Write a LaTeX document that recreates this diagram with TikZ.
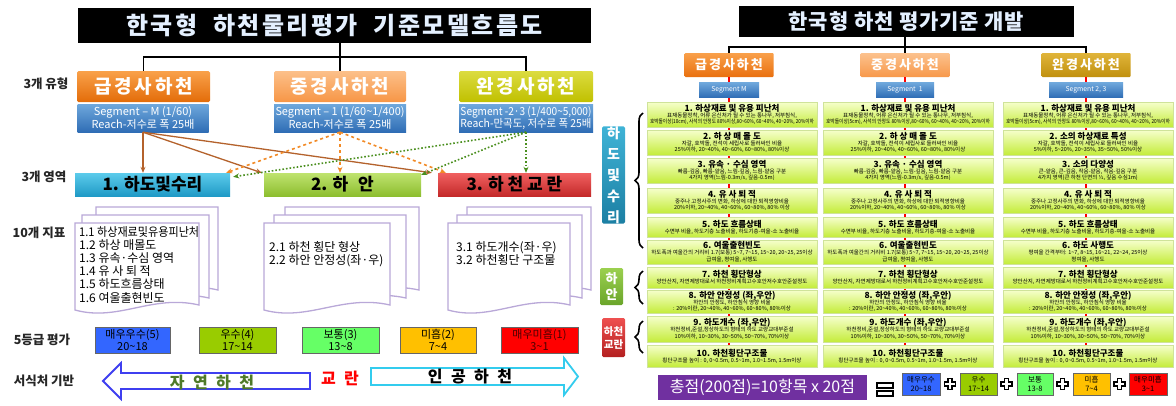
\documentclass[tikz,border=0pt]{standalone}
\usepackage{graphicx}
\usepackage{fontspec}
\setmainfont{Noto Sans CJK KR}
\usetikzlibrary{arrows.meta,decorations.pathreplacing}
\newsavebox\fitbox
\newcommand\fitto[2]{\sbox\fitbox{#2}\ifdim\wd\fitbox>#1\relax\resizebox{#1}{\ht\fitbox}{\usebox\fitbox}\else\usebox\fitbox\fi}
\newcommand\tld{\textasciitilde}
\newcommand\bl[1]{\fitto{164pt}{#1}}
\newcommand\ib[2]{{\bfseries\fontsize{8.5}{9.5}\selectfont #1}\\[-0.5pt]#2}
\newcommand\rbox[5]{\node[itembox, minimum height={#4-#3}] (#1) at (#2,{(#3+#4)/2}) {#5};}
\newcommand\docpage[4]{\filldraw[docst] (#1,#2) -- (#3,#2) -- (#3,{#4-5}) .. controls ({#1+0.62*(#3-#1)},{#4-16}) and ({#1+0.35*(#3-#1)},{#4+12}) .. (#1,#4) -- cycle;}
\newcommand\plussign[2]{\filldraw[fill=white,draw=black,line width=1.1] ({#1-2},{#2-5.5}) -- ({#1+2},{#2-5.5}) -- ({#1+2},{#2-2}) -- ({#1+5.5},{#2-2}) -- ({#1+5.5},{#2+2}) -- ({#1+2},{#2+2}) -- ({#1+2},{#2+5.5}) -- ({#1-2},{#2+5.5}) -- ({#1-2},{#2+2}) -- ({#1-5.5},{#2+2}) -- ({#1-5.5},{#2-2}) -- ({#1-2},{#2-2}) -- cycle;}
% item contents
\newcommand\tOne[1]{\ib{1. 하상재료 및 유용 피난처}{\bl{표재동물정착, 어류 은신처가 될 수 있는 통나무, 저부침식,}\\\bl{호박돌이상(#1), 사석의 안정도 80\%이상,80\tld60\%, 60\tld40\%, 40\tld20\%, 20\%이하}}}
\newcommand\tTwo{\ib{2. 하 상 매 몰 도}{\bl{자갈, 호박돌, 전석이 세립사로 둘러싸인 비율}\\\bl{25\%이하, 20\tld40\%, 40\tld60\%, 60\tld80\%, 80\%이상}}}
\newcommand\tThree{\ib{3. 유속 · 수심 영역}{\bl{빠름-깊음, 빠름-얕음, 느림-깊음, 느림-얕음 구분}\\\bl{4가지 영역(느림-0.3m/s, 깊음-0.5m)}}}
\newcommand\tFour{\ib{4. 유 사 퇴 적}{\bl{중주나 고정사주의 변화, 하상에 대한 퇴적영향비율}\\\bl{20\%이하, 20\tld40\%, 40\tld60\%, 60\tld80\%, 80\% 이상}}}
\newcommand\tFive{\ib{5. 하도 흐름상태}{\bl{수면부 비율, 하도기층 노출비율, 하도기층-여울-소 노출비율}}}
\newcommand\tSix{\ib{6. 여울출현빈도}{\bl{하도폭과 여울간의 거리비 1.7(보통) 5\tld7, 7\tld15, 15\tld20, 20\tld25, 25이상}\\\bl{급여울, 평여울, 사행도}}}
\newcommand\tSeven{\ib{7. 하천 횡단형상}{\bl{양안산지, 자연제방대로서 하천정비계획고수호안저수호안준설정도}}}
\newcommand\tEight{\ib{8. 하안 안정성 (좌,우안)}{\bl{하안의 안정도, 하안침식 영향 비율}\\\bl{: 20\%이란, 20\tld40\%, 40\tld60\%, 60\tld80\%, 80\%이상}}}
\newcommand\tNine{\ib{9. 하도개수 (좌,우안)}{\bl{하천정비,준설,정상하도의 형태의 하도 교량교대부준설}\\\bl{10\%이하, 10\tld30\%, 30\tld50\%, 50\tld70\%, 70\%이상}}}
\newcommand\tTen{\ib{10. 하천횡단구조물}{\bl{횡단구조물 높이 : 0, 0\tld0.5m, 0.5\tld1m, 1.0\tld1.5m, 1.5m이상}}}
\newcommand\tTwoC{\ib{2. 소의 하상재료 특성}{\bl{자갈, 호박돌, 전석이 세립사로 둘러싸인 비율}\\\bl{5\%이하, 5\tld20\%, 20\tld35\%, 35\tld50\%, 50\%이상}}}
\newcommand\tThreeC{\ib{3. 소의 다양성}{\bl{큰-얕음, 큰-깊음, 작음-얕음, 작음-깊음 구분}\\\bl{4가지 영역(큰 하천 단면의 ½, 깊음 수심1m)}}}
\newcommand\tSixC{\ib{6. 하도 사행도}{\bl{평여울 간격부터: 1\tld7, 8\tld15, 16\tld21, 22\tld24, 25이상}\\\bl{평여울, 사행도}}}
% colours
\definecolor{ttl}{HTML}{E4F0FF}
\definecolor{oAT}{HTML}{F9A14A}\definecolor{oAB}{HTML}{E36C09}
\definecolor{oBT}{HTML}{FCC08A}\definecolor{oBB}{HTML}{F79646}
\definecolor{yT}{HTML}{DCDC40}\definecolor{yB}{HTML}{C0C000}
\definecolor{sT}{HTML}{6FA8DC}\definecolor{sB}{HTML}{2F6DB5}
\definecolor{cT}{HTML}{5CCBEB}\definecolor{cB}{HTML}{1F9AC6}
\definecolor{gT}{HTML}{BFE36F}\definecolor{gB}{HTML}{8DBE2F}
\definecolor{rT}{HTML}{F06060}\definecolor{rB}{HTML}{C42A2A}
\definecolor{arS}{HTML}{B4622C}
\definecolor{arO}{HTML}{F28A26}
\definecolor{arG}{HTML}{4A8F1E}
\definecolor{docB}{HTML}{B9A8D8}
\definecolor{gr1}{HTML}{3366FF}\definecolor{gr2}{HTML}{99CC00}
\definecolor{gr3}{HTML}{66FF66}\definecolor{gr4}{HTML}{FFC000}
\definecolor{gr5}{HTML}{FF0000}
\definecolor{nat}{HTML}{4F7A28}
\definecolor{blA}{HTML}{3F3FF0}
\definecolor{cyA}{HTML}{33CCEE}
\definecolor{hAT}{HTML}{F9A04A}\definecolor{hAB}{HTML}{E9700F}
\definecolor{hBT}{HTML}{FCC28E}\definecolor{hBB}{HTML}{F7984A}
\definecolor{hCT}{HTML}{E0B43A}\definecolor{hCB}{HTML}{C0900E}
\definecolor{itT}{HTML}{F6FFCC}\definecolor{itB}{HTML}{C4EC3A}
\definecolor{itD}{HTML}{CFE39A}
\definecolor{sdT}{HTML}{3FB3D6}\definecolor{sdB}{HTML}{1C7FA3}
\definecolor{saT}{HTML}{9BD04F}\definecolor{saB}{HTML}{6AA52A}
\definecolor{tcT}{HTML}{EE5050}\definecolor{tcB}{HTML}{B42020}
\definecolor{purp}{HTML}{7030A0}
\tikzset{
  lbl/.style={font=\bfseries\fontsize{12.5}{14}\selectfont, text=black!85, inner sep=0},
  conn/.style={draw=black, line width=1.8},
  typebox/.style={inner sep=0, minimum height=31, rounded corners=1.5, text=white,
    font=\bfseries\fontsize{19}{19}\selectfont\addfontfeature{LetterSpace=15}},
  subbox/.style={inner sep=0, minimum height=28, top color=sT, bottom color=sB, text=white,
    align=center, font=\fontsize{11}{12.5}\selectfont},
  areabox/.style={inner sep=0, minimum height=23, text=black,
    font=\bfseries\fontsize{17}{17}\selectfont},
  solA/.style={draw=arS, line width=1.3, -{Stealth[length=6pt,width=5pt]}},
  dasA/.style={draw=arO, line width=1.6, dashed, -{Stealth[length=6pt,width=5pt]}},
  dotA/.style={draw=arG, line width=1.6, dotted, -{Stealth[length=6pt,width=5pt]}},
  docst/.style={fill=white, draw=docB, line width=1.3},
  doctxt/.style={inner sep=0, align=left, anchor=north west, font=\fontsize{12}{13.2}\selectfont},
  gbox/.style={draw=black!60, line width=0.8, inner sep=0, align=center, minimum height=26,
    font=\fontsize{11}{11.5}\selectfont},
  bigtxt/.style={inner sep=0, font=\bfseries\fontsize{16}{16}\selectfont\addfontfeature{LetterSpace=30}},
  hdbox/.style={inner sep=0, minimum width=89, minimum height=24, rounded corners=1, text=white,
    font=\bfseries\fontsize{13}{13}\selectfont\addfontfeature{LetterSpace=15}},
  sgbox/.style={inner sep=0, minimum height=15, top color=sT, bottom color=sB,
    text=white, font=\fontsize{6.8}{7}\selectfont},
  itembox/.style={draw=itD, line width=0.5, top color=itT, bottom color=itB, minimum width=170,
    inner sep=0, align=center, font=\fontsize{5.5}{6.6}\selectfont},
  redl/.style={draw=red, line width=1.8},
  sidebox/.style={inner sep=0, minimum width=23, text=white, align=center, rounded corners=1.5},
  brc/.style={decorate, decoration={brace, amplitude=8pt}, line width=1.6},
  rgbox/.style={draw=black!60, line width=0.7, inner sep=0, minimum height=22, align=center,
    font=\fontsize{7.5}{8.5}\selectfont}
}
\begin{document}
\begin{tikzpicture}[x=1pt,y=-1pt]
\useasboundingbox (0,0) rectangle (1176,405);
\fill[white] (0,0) rectangle (1176,405);

% ================= LEFT PANEL =================
\node[fill=black, minimum width=513, minimum height=35, inner sep=0] (T1) at (334.5,25.5)
  {\color{ttl}\bfseries\fontsize{24}{24}\selectfont\addfontfeature{LetterSpace=10}한국형\hspace{16pt}하천물리평가\hspace{16pt}기준모델흐름도};

\node[typebox, top color=oAT, bottom color=oAB, minimum width=133] (A1) at (143.5,86.5) {급경사하천};
\node[typebox, top color=oBT, bottom color=oBB, minimum width=132] (A2) at (340,86.5) {중경사하천};
\node[typebox, top color=yT, bottom color=yB, minimum width=134] (A3) at (526,86.5) {완경사하천};
\draw[conn] (T1.south -| A2.north) -- (A2.north);
\draw[conn] (A1.north) -- ++(0,-14) -| (A3.north);

\node[subbox, minimum width=131] (S1) at (143,118) {\fitto{128pt}{Segment – M (1/60)}\\\fitto{128pt}{Reach-저수로 폭 25배}};
\node[subbox, minimum width=132] (S2) at (340,118) {\fitto{129pt}{Segment – 1 (1/60\tld1/400)}\\\fitto{129pt}{Reach-저수로 폭 25배}};
\node[subbox, minimum width=134] (S3) at (526,118) {\fitto{131pt}{Segment -2·3 (1/400\tld5,000)}\\\fitto{131pt}{Reach-만곡도, 저수로 폭 25배}};

\node[areabox, top color=cT, bottom color=cB, minimum width=155] (B1) at (152.5,184.5) {1. 하도및수리};
\node[areabox, top color=gT, bottom color=gB, minimum width=157] (B2) at (342.5,184.5) {2. 하\hspace{10pt}안};
\node[areabox, top color=rT, bottom color=rB, minimum width=153] (B3) at (514.5,184.5) {3. 하 천 교 란};

% connectors between the types and the areas
\draw[solA] (S1.south) -- (S1.south |- B1.north);
\draw[solA] (S1.south) -- ([xshift=-2pt]B2.north west);
\draw[solA] (S1.south) -- ([xshift=-6pt]B3.north west);
\draw[dasA] (S2.south) -- ([xshift=-4pt]B1.north east);
\draw[dasA] (S2.south) -- (S2.south |- B2.north);
\draw[dasA] (S2.south) -- ([xshift=8pt]B3.north west);
\draw[dotA] (S3.south) -- ([xshift=3pt,yshift=-4pt]B1.north east);
\draw[dotA] (S3.south) -- ([yshift=-2pt]B2.north east);
\draw[dotA] (S3.south) -- (S3.south |- B3.north);

% stacked documents
\docpage{96}{207}{218}{295}\docpage{82}{215}{209}{303}\docpage{75}{223}{199}{310}
\docpage{285}{207}{419}{295}\docpage{274}{215}{406}{303}\docpage{264}{223}{390}{310}
\docpage{467}{207}{591}{295}\docpage{457}{215}{582}{303}\docpage{448}{223}{570}{310}
\node[doctxt] (D1) at (79,226) {\fitto{120pt}{1.1 하상재료및유용피난처}\\1.2 하상 매몰도\\1.3 유속·수심 영역\\1.4 유 사 퇴 적\\1.5 하도흐름상태\\1.6 여울출현빈도};
\node[doctxt] (D2) at (269,241) {2.1 하천 횡단 형상\\2.2 하안 안정성(좌·우)};
\node[doctxt] (D3) at (456,241) {3.1 하도개수(좌·우)\\3.2 하천횡단 구조물};

% grades
\node[gbox, fill=gr1, minimum width=75] (G1) at (132.5,340) {매우우수(5)\\20\tld18};
\node[gbox, fill=gr2, minimum width=77] (G2) at (237.5,340) {우수(4)\\17\tld14};
\node[gbox, fill=gr3, minimum width=77] (G3) at (340.5,340) {보통(3)\\13\tld8};
\node[gbox, fill=gr4, minimum width=76] (G4) at (438,340) {미흡(2)\\7\tld4};
\node[gbox, fill=gr5, minimum width=77, text=black!70!red] (G5) at (539.5,340) {매우미흡(1)\\3\tld1};

% bottom arrows
\filldraw[fill=white, draw=blA, line width=1.8] (103,381) -- (121,363) -- (121,373) -- (310,373) -- (310,389) -- (121,389) -- (121,399) -- cycle;
\filldraw[fill=white, draw=cyA, line width=1.8] (578,376.5) -- (564,358) -- (564,368) -- (371,368) -- (371,385) -- (564,385) -- (564,395) -- cycle;
\node[bigtxt, text=nat] (N1) at (212,383) {자 연 하 천};
\node[bigtxt, text=red] (N2) at (340,378) {교 란};
\node[bigtxt, text=black] (N3) at (470,377) {인 공 하 천};

% row labels
\node[lbl] (L1) at (46,84) {3개 유형};
\node[lbl] (L2) at (44,177) {3개 영역};
\node[lbl] (L3) at (39,233) {10개 지표};
\node[lbl] (L4) at (42,340) {5등급 평가};
\node[lbl] (L5) at (44,381) {서식처 기반};

% ================= RIGHT PANEL =================
\node[fill=black, minimum width=335, minimum height=31, inner sep=0] (T2) at (906.5,21.5)
  {\color{ttl}\bfseries\fontsize{21}{21}\selectfont\addfontfeature{LetterSpace=4}한국형 하천 평가기준 개발};
\node[hdbox, top color=hAT, bottom color=hAB] (H1) at (729,65) {급경사하천};
\node[hdbox, top color=hBT, bottom color=hBB] (H2) at (905,65) {중경사하천};
\node[hdbox, top color=hCT, bottom color=hCB] (H3) at (1086,65) {완경사하천};
\draw[conn] (T2.south -| H2.north) -- (H2.north);
\draw[conn] (H1.north) -- ++(0,-6) -| (H3.north);

% red guide lines (behind the items)
\draw[redl] (H1.south) -- (729,345);
\draw[redl] (H2.south) -- (905,345);
\draw[redl] (H3.south) -- (1086,345);

\node[sgbox, minimum width=60] (SG1) at (729,90) {Segment M};
\node[sgbox, minimum width=58] (SG2) at (905,90) {Segment\hspace{3pt}1};
\node[sgbox, minimum width=74] (SG3) at (1086,90) {Segment 2, 3};

% column 1
\rbox{a1}{732}{102}{127}{\tOne{10cm}}
\rbox{a2}{732}{130}{155}{\tTwo}
\rbox{a3}{732}{158}{183}{\tThree}
\rbox{a4}{732}{188}{213}{\tFour}
\rbox{a5}{732}{217}{237}{\tFive}
\rbox{a6}{732}{240}{264}{\tSix}
\rbox{a7}{732}{267}{288}{\tSeven}
\rbox{a8}{732}{290}{313}{\tEight}
\rbox{a9}{732}{316}{342}{\tNine}
\rbox{a10}{732}{345}{367}{\tTen}
% column 2
\rbox{b1}{908}{102}{127}{\tOne{5cm}}
\rbox{b2}{908}{130}{155}{\tTwo}
\rbox{b3}{908}{158}{183}{\tThree}
\rbox{b4}{908}{188}{213}{\tFour}
\rbox{b5}{908}{217}{237}{\tFive}
\rbox{b6}{908}{240}{264}{\tSix}
\rbox{b7}{908}{267}{288}{\tSeven}
\rbox{b8}{908}{290}{313}{\tEight}
\rbox{b9}{908}{316}{342}{\tNine}
\rbox{b10}{908}{345}{367}{\tTen}
% column 3
\rbox{c1}{1088}{102}{127}{\tOne{5cm}}
\rbox{c2}{1088}{130}{155}{\tTwoC}
\rbox{c3}{1088}{158}{183}{\tThreeC}
\rbox{c4}{1088}{188}{213}{\tFour}
\rbox{c5}{1088}{217}{237}{\tFive}
\rbox{c6}{1088}{240}{264}{\tSixC}
\rbox{c7}{1088}{267}{288}{\tSeven}
\rbox{c8}{1088}{290}{313}{\tEight}
\rbox{c9}{1088}{316}{342}{\tNine}
\rbox{c10}{1088}{345}{367}{\tTen}

% side labels and braces
\node[sidebox, top color=sdT, bottom color=sdB, minimum height=90,
  font=\bfseries\fontsize{14}{21}\selectfont] (SB1) at (613.5,175) {하\\도\\및\\수\\리};
\node[sidebox, top color=saT, bottom color=saB, minimum height=37,
  font=\bfseries\fontsize{13}{16}\selectfont] (SB2) at (611.5,286.5) {하\\안};
\node[sidebox, top color=tcT, bottom color=tcB, minimum height=39,
  font=\bfseries\fontsize{10.5}{13}\selectfont] (SB3) at (613.5,337.5) {하천\\교란};
\draw[brc] (643,248) -- (643,113);
\draw[brc] (643,304) -- (643,271);
\draw[brc] (643,353) -- (643,321);

% total score
\node[fill=purp, minimum width=209, minimum height=25, inner sep=0, text=white] (TB) at (762.5,387.5)
  {\fitto{185pt}{\fontsize{16}{16}\selectfont 총점(200점)=10항목 x 20점}};
\filldraw[fill=white, draw=black, line width=1.5] (877,383) rectangle (893,388);
\filldraw[fill=white, draw=black, line width=1.5] (877,391) rectangle (893,396);
\node[rgbox, fill=gr1, minimum width=38] (RG1) at (921,384) {매우우수\\20\tld18};
\node[rgbox, fill=gr2, minimum width=37] (RG2) at (978.5,384) {우수\\17\tld14};
\node[rgbox, fill=gr3, minimum width=36] (RG3) at (1035,384) {보통\\13-8};
\node[rgbox, fill=gr4, minimum width=37] (RG4) at (1091.5,384) {미흡\\7\tld4};
\node[rgbox, fill=gr5, minimum width=38] (RG5) at (1148,384) {매우미흡\\3\tld1};
\plussign{950}{384}\plussign{1006.5}{384}\plussign{1062.5}{384}\plussign{1119.5}{384}
\end{tikzpicture}
\end{document}
